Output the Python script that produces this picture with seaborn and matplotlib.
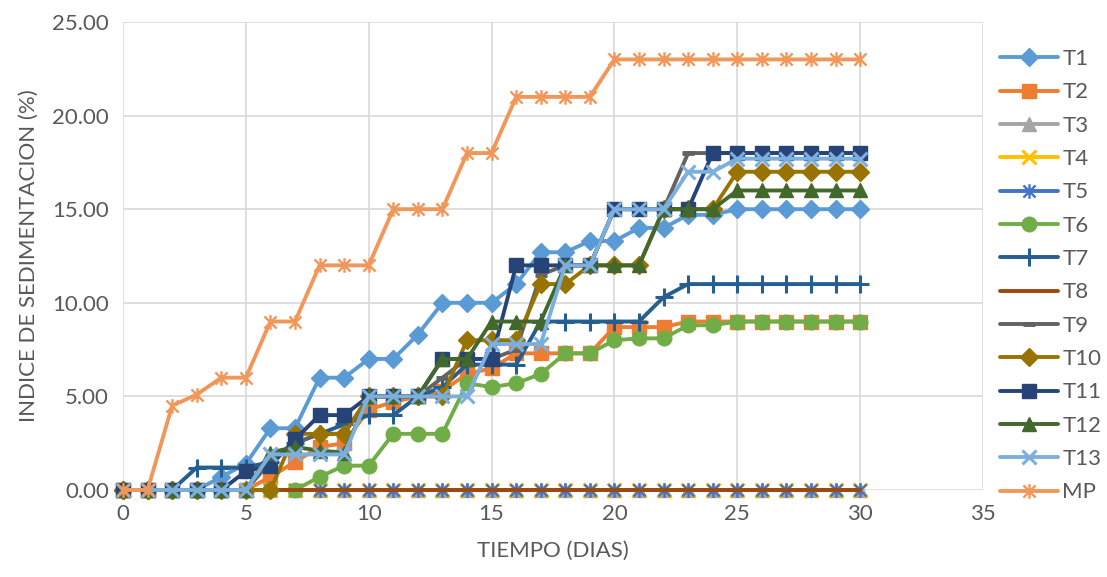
import numpy as np
import matplotlib
matplotlib.use("Agg")
import matplotlib.pyplot as plt
from matplotlib.path import Path
from matplotlib.ticker import FormatStrFormatter
import seaborn as sns

# Days of the test (x axis)
DAYS = list(range(0, 31))

# Sedimentation index (%) per treatment
T1 = [0, 0, 0, 0, 0.7, 1.4, 3.3, 3.3, 6, 6, 7, 7, 8.3, 10, 10, 10, 11, 12.7, 12.7, 13.3,
      13.3, 14, 14, 14.7, 14.7, 15, 15, 15, 15, 15, 15]
T2 = [0, 0, 0, 0, 0, 0, 0.7, 1.5, 2.3, 2.5, 4.3, 4.7, 5, 5.3, 6.2, 6.5, 7.3, 7.3, 7.3, 7.3,
      8.7, 8.7, 8.7, 9, 9, 9, 9, 9, 9, 9, 9]
T3 = [0, 0, 0, 0, 0, 0, 0, 0, 0, 0, 0, 0, 0, 0, 0, 0, 0, 0, 0, 0,
      0, 0, 0, 0, 0, 0, 0, 0, 0, 0, 0]
T4 = [0, 0, 0, 0, 0, 0, 0, 0, 0, 0, 0, 0, 0, 0, 0, 0, 0, 0, 0, 0,
      0, 0, 0, 0, 0, 0, 0, 0, 0, 0, 0]
T5 = [0, 0, 0, 0, 0, 0, 0, 0, 0, 0, 0, 0, 0, 0, 0, 0, 0, 0, 0, 0,
      0, 0, 0, 0, 0, 0, 0, 0, 0, 0, 0]
T6 = [0, 0, 0, 0, 0, 0, 0, 0, 0.7, 1.3, 1.3, 3, 3, 3, 5.7, 5.5, 5.7, 6.2, 7.3, 7.3,
      8, 8.1, 8.1, 8.8, 8.8, 9, 9, 9, 9, 9, 9]
T7 = [0, 0, 0, 1.2, 1.2, 1.2, 1.5, 2.5, 3, 3.5, 4, 4, 5, 5.5, 6.7, 6.7, 6.7, 9, 9, 9,
      9, 9, 10.3, 11, 11, 11, 11, 11, 11, 11, 11]
T8 = [0, 0, 0, 0, 0, 0, 0, 0, 0, 0, 0, 0, 0, 0, 0, 0, 0, 0, 0, 0,
      0, 0, 0, 0, 0, 0, 0, 0, 0, 0, 0]
T9 = [0, 0, 0, 0, 0, 0, 1.5, 2.5, 3, 3, 5, 5, 5, 6, 7, 7, 7.5, 11.5, 12, 12,
      15, 15, 15, 18, 18, 18, 18, 18, 18, 18, 18]
T10 = [0, 0, 0, 0, 0, 0, 0, 3, 3, 3, 5, 5, 5, 5, 8, 8, 8, 11, 11, 12,
       12, 12, 15, 15, 15, 17, 17, 17, 17, 17, 17]
T11 = [0, 0, 0, 0, 0, 1, 1.3, 2.7, 4, 4, 5, 5, 5, 7, 7, 7, 12, 12, 12, 12,
       15, 15, 15, 15, 18, 18, 18, 18, 18, 18, 18]
T12 = [0, 0, 0, 0, 0, 0, 2, 2.3, 2.1, 2, 5, 5, 5, 7, 7, 9, 9, 9, 12, 12,
       12, 12, 15, 15, 15, 16, 16, 16, 16, 16, 16]
T13 = [0, 0, 0, 0, 0, 0, 1.9, 1.9, 1.9, 1.9, 5, 5, 5, 5, 5, 7.8, 7.8, 7.8, 12, 12,
       15, 15, 15, 17, 17, 17.7, 17.7, 17.7, 17.7, 17.7, 17.7]
MP = [0, 0, 4.5, 5.1, 6, 6, 9, 9, 12, 12, 12, 15, 15, 15, 18, 18, 21, 21, 21, 21,
      23, 23, 23, 23, 23, 23, 23, 23, 23, 23, 23]

SERIES_NAMES = ["T1", "T2", "T3", "T4", "T5", "T6", "T7", "T8", "T9", "T10", "T11", "T12", "T13", "MP"]
SERIES_VALUES = [T1, T2, T3, T4, T5, T6, T7, T8, T9, T10, T11, T12, T13, MP]

COLORS = ["#5B9BD5", "#ED7D31", "#A5A5A5", "#FFC000", "#4472C4", "#70AD47", "#255E91",
          "#9E480E", "#636363", "#997300", "#264478", "#43682B", "#7CAFDD", "#F1975A"]

# Excel-like star marker: an x with a vertical bar
STAR = Path([(-1, -1), (1, 1), (-1, 1), (1, -1), (0, -1.2), (0, 1.2)],
            [Path.MOVETO, Path.LINETO, Path.MOVETO, Path.LINETO, Path.MOVETO, Path.LINETO])

# marker, size, edge width
MARKERS = [("D", 9, 1), ("s", 10, 1), ("^", 10.5, 1), ("x", 9.5, 2.2),
           (STAR, 10.5, 1.7), ("o", 10.5, 1), ("+", 13, 2.2), (None, 0, 0),
           ("_", 9, 3.5), ("D", 9, 1), ("s", 10, 1), ("^", 10.5, 1),
           ("x", 9.5, 2.2), (STAR, 10.5, 1.7)]

TEXT_COLOR = "#595959"

sns.set_style("whitegrid")
plt.rcParams["font.family"] = ["Lato", "DejaVu Sans"]

fig = plt.figure(figsize=(11.07, 5.77), dpi=100)
ax = fig.add_axes([123 / 1107, 1 - 490 / 577, (983 - 123) / 1107, (490 - 22) / 577])

for i, (name, vals) in enumerate(zip(SERIES_NAMES, SERIES_VALUES)):
    marker, ms, mew = MARKERS[i]
    kw = dict(color=COLORS[i], linewidth=2.8, label=name, zorder=3 + i, clip_on=False)
    if marker is not None:
        kw.update(marker=marker, markersize=ms, markeredgewidth=mew,
                  markeredgecolor=COLORS[i], markerfacecolor=COLORS[i])
    sns.lineplot(x=DAYS, y=vals, ax=ax, **kw)

ax.set_xlim(0, 35)
ax.set_ylim(0, 25)
ax.set_xticks(range(0, 36, 5))
ax.set_yticks(range(0, 26, 5))
ax.yaxis.set_major_formatter(FormatStrFormatter("%.2f"))
ax.grid(True, color="#D9D9D9", linewidth=1.2)
ax.set_axisbelow(True)
for sp in ax.spines.values():
    sp.set_visible(False)
ax.tick_params(axis="both", length=0, labelsize=16, labelcolor=TEXT_COLOR, pad=10)

ax.set_xlabel("TIEMPO (DIAS)", fontsize=16, color=TEXT_COLOR, labelpad=12)
ax.set_ylabel("INDICE DE SEDIMENTACION (%)", fontsize=16, color=TEXT_COLOR, labelpad=10)

handles, labels = ax.get_legend_handles_labels()
leg = ax.legend(handles, labels, loc="upper left", bbox_to_anchor=(1000 / 1107, 1 - 49 / 577),
                bbox_transform=fig.transFigure, frameon=False, fontsize=16,
                handlelength=2.6, handletextpad=0.2, labelspacing=0.6, borderpad=0,
                borderaxespad=0, labelcolor=TEXT_COLOR)

fig.savefig("out.png", dpi=100)
